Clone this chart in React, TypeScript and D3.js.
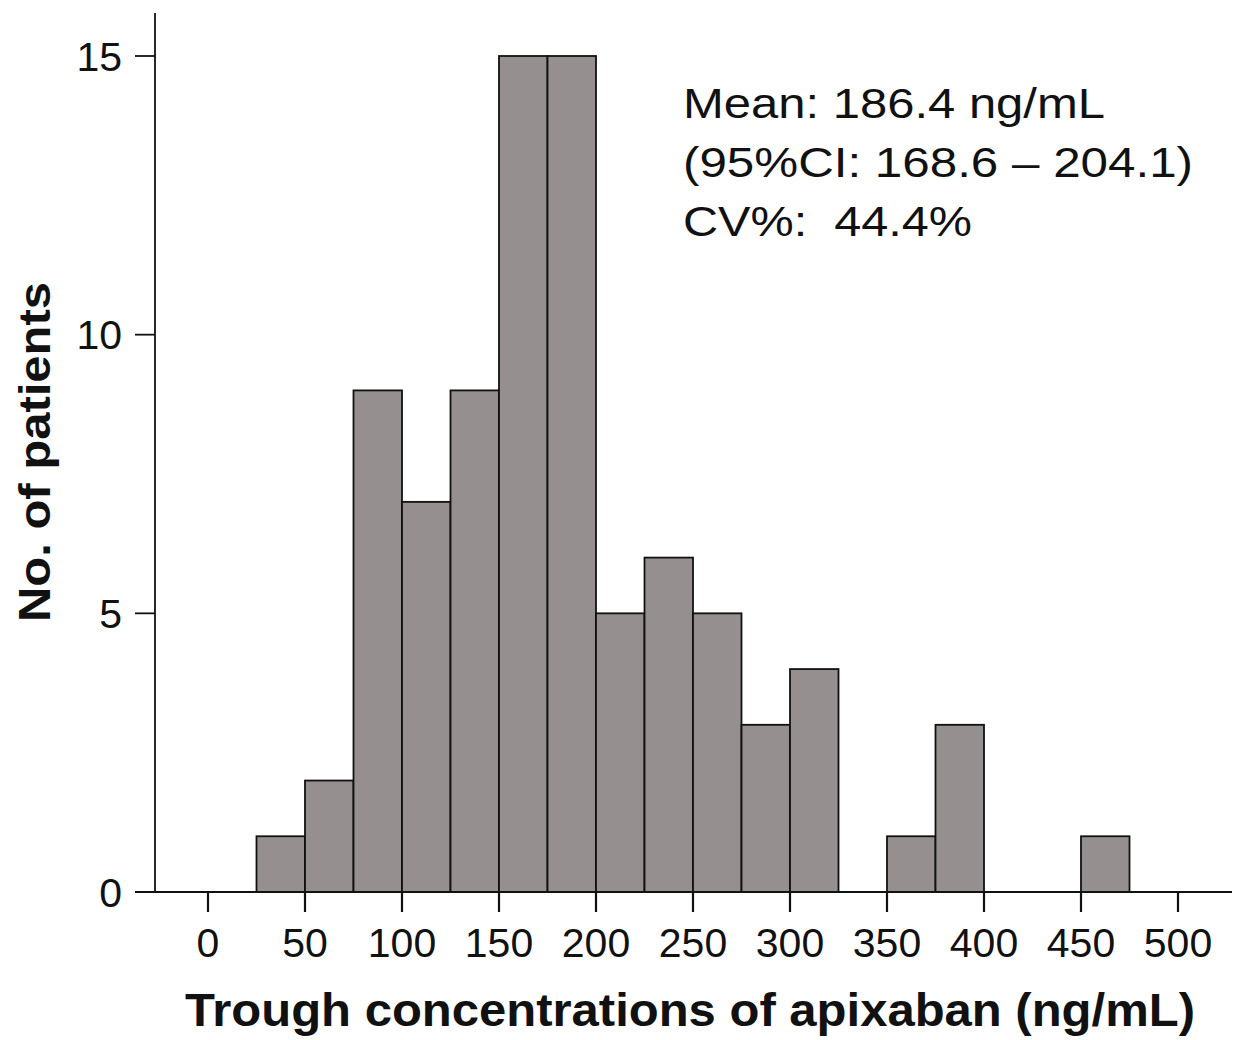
import React from "react";
import * as d3 from "d3";

const binStarts = [25, 50, 75, 100, 125, 150, 175, 200, 225, 250, 275, 300, 325, 350, 375, 400, 425, 450];
const counts = [1, 2, 9, 7, 9, 15, 15, 5, 6, 5, 3, 4, 0, 1, 3, 0, 0, 1];
const binWidth = 25;
const xTicks = [0, 50, 100, 150, 200, 250, 300, 350, 400, 450, 500];
const yTicks = [0, 5, 10, 15];
const annotation = ["Mean: 186.4 ng/mL", "(95%CI: 168.6 \u2013 204.1)", "CV%:  44.4%"];
const annotationWidths = [422, 510, 289];
const xTitle = "Trough concentrations of apixaban (ng/mL)";
const yTitle = "No. of patients";

const W = 1239;
const H = 1040;
const FONT = "Liberation Sans, Arial, sans-serif";

export default function App() {
  const x = d3.scaleLinear().domain([0, 500]).range([208, 1178]);
  const y = d3.scaleLinear().domain([0, 15]).range([892, 56]);
  const axisLeft = 155;
  const yTop = y(15.77);
  const xLeft = 135;
  const xRight = 1232;

  return (
    <div style={{ position: "absolute", left: 0, top: 0 }}>
      <svg width={W} height={H} style={{ display: "block", background: "#fff" }}>
        {binStarts.map((s, i) =>
          counts[i] > 0 ? (
            <rect
              key={i}
              x={x(s)}
              y={y(counts[i])}
              width={x(s + binWidth) - x(s)}
              height={y(0) - y(counts[i])}
              fill="#958f8f"
              stroke="#111"
              strokeWidth={1.8}
            />
          ) : null
        )}
        <line x1={xLeft} x2={xRight} y1={y(0)} y2={y(0)} stroke="#111" strokeWidth={1.8} />
        <line x1={axisLeft} x2={axisLeft} y1={yTop} y2={y(0)} stroke="#111" strokeWidth={1.8} />
        {yTicks.map((t) => (
          <g key={t}>
            <line x1={axisLeft - 20} x2={axisLeft} y1={y(t)} y2={y(t)} stroke="#111" strokeWidth={1.8} />
            <text x={122} y={y(t)} dy="0.36em" textAnchor="end" fontFamily={FONT} fontSize={41} fill="#111">
              {t}
            </text>
          </g>
        ))}
        {xTicks.map((t) => (
          <g key={t}>
            <line x1={x(t)} x2={x(t)} y1={y(0)} y2={y(0) + 20} stroke="#111" strokeWidth={2.2} />
            <text x={x(t)} y={957} textAnchor="middle" fontFamily={FONT} fontSize={41} fill="#111">
              {t}
            </text>
          </g>
        ))}
        {annotation.map((line, i) => (
          <text
            key={i}
            x={683}
            y={118 + i * 59}
            fontFamily={FONT}
            fontSize={42}
            fill="#111"
            textLength={annotationWidths[i]}
            lengthAdjust="spacingAndGlyphs"
            style={{ whiteSpace: "pre" }}
          >
            {line}
          </text>
        ))}
        <text
          x={185}
          y={1026}
          fontFamily={FONT}
          fontSize={46}
          fontWeight="bold"
          fill="#111"
          textLength={1010}
          lengthAdjust="spacingAndGlyphs"
        >
          {xTitle}
        </text>
        <text
          transform={`translate(50, 622) rotate(-90)`}
          fontFamily={FONT}
          fontSize={44}
          fontWeight="bold"
          fill="#111"
          textLength={340}
          lengthAdjust="spacingAndGlyphs"
        >
          {yTitle}
        </text>
      </svg>
    </div>
  );
}
